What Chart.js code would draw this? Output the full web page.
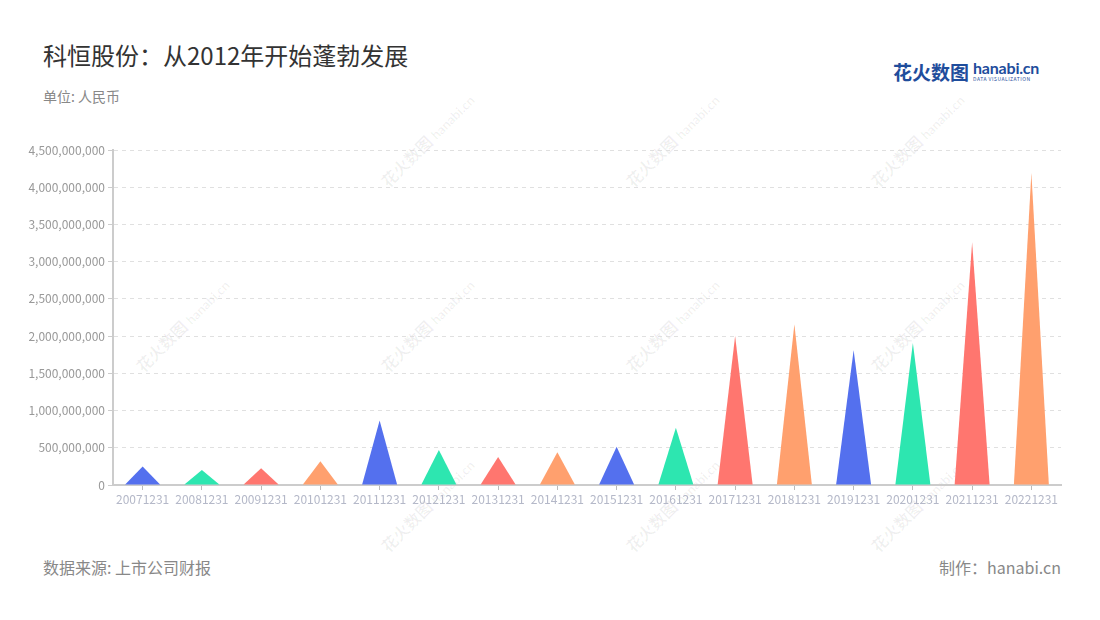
<!DOCTYPE html>
<html lang="zh">
<head>
  <meta charset="UTF-8" />
  <title>科恒股份</title>
  <script src="https://cdn.jsdelivr.net/npm/chart.js"></script>
  <style>
    body {
      margin: 0;
      width: 1100px;
      height: 620px;
      background: #fff;
      font-family: "Noto Sans CJK SC", "Noto Sans", sans-serif;
      position: relative;
      overflow: hidden;
    }
    .title {
      position: absolute;
      left: 43px;
      top: 41px;
      font-size: 24px;
      line-height: 28px;
      color: #333;
    }
    .unit {
      position: absolute;
      left: 43px;
      top: 86px;
      font-size: 14px;
      line-height: 20px;
      color: #888;
    }
    .source, .maker {
      position: absolute;
      top: 556px;
      font-size: 16px;
      line-height: 22px;
      color: #888;
    }
    .source { left: 43px; }
    .maker { right: 39px; }
    .logo {
      position: absolute;
      left: 893px;
      top: 60px;
      white-space: nowrap;
    }
    .logo .cn {
      font-size: 19px;
      font-weight: bold;
      color: #1f4d9c;
      vertical-align: top;
      line-height: 24px;
    }
    .logo .en {
      display: inline-block;
      margin-left: 4px;
      vertical-align: top;
    }
    .logo .en b {
      display: block;
      font-family: "Lato", sans-serif;
      font-size: 16px;
      line-height: 15px;
      color: #1f4d9c;
      letter-spacing: -0.2px;
    }
    .logo .en i {
      display: block;
      font-style: normal;
      font-size: 5px;
      line-height: 7px;
      color: #1f4d9c;
      letter-spacing: 0.5px;
    }
    .wm {
      position: absolute;
      transform: rotate(-45deg);
      transform-origin: 0 0;
      white-space: nowrap;
      color: rgba(0, 0, 0, 0.06);
      font-weight: bold;
      font-size: 16px;
      pointer-events: none;
    }
    .wm span { font-family: "Lato", sans-serif; font-size: 13px; margin-left: 4px; }
    .chart-box {
      position: absolute;
      left: 0;
      top: 130px;
      width: 1100px;
      height: 400px;
    }
  </style>
</head>
<body>
  <div class="title">科恒股份：从2012年开始蓬勃发展</div>
  <div class="unit">单位: 人民币</div>
  <div class="logo"><span class="cn">花火数图</span><span class="en"><b>hanabi.cn</b><i>DATA VISUALIZATION</i></span></div>

  <div id="wms"></div>

  <div class="chart-box">
    <canvas id="chart" width="1100" height="400"></canvas>
  </div>

  <div class="source">数据来源: 上市公司财报</div>
  <div class="maker">制作：hanabi.cn</div>

  <script>
    const categories = ['20071231', '20081231', '20091231', '20101231', '20111231', '20121231',
      '20131231', '20141231', '20151231', '20161231', '20171231', '20181231',
      '20191231', '20201231', '20211231', '20221231'];
    const revenue = [250000000, 200000000, 225000000, 320000000, 865000000, 470000000,
      375000000, 440000000, 515000000, 770000000, 2000000000, 2160000000,
      1810000000, 1910000000, 3260000000, 4190000000];
    const palette = ['#5470ee', '#2de6b0', '#ff766f', '#ffa06e'];
    const yTicks = [0, 500000000, 1000000000, 1500000000, 2000000000, 2500000000,
      3000000000, 3500000000, 4000000000, 4500000000];

    // faint watermarks
    const wmBox = document.getElementById('wms');
    [[130, 370], [375, 185], [375, 370], [375, 550], [620, 185], [620, 370], [620, 550],
     [865, 185], [865, 370], [865, 550]].forEach(p => {
      const d = document.createElement('div');
      d.className = 'wm';
      d.style.left = p[0] + 'px';
      d.style.top = (p[1] - 10) + 'px';
      d.innerHTML = '花火数图<span>hanabi.cn</span>';
      wmBox.appendChild(d);
    });

    // draw each bar as a triangle
    const triangleBars = {
      id: 'triangleBars',
      beforeDatasetDraw(chart, args) {
        const ctx = chart.ctx;
        args.meta.data.forEach(bar => {
          const half = bar.width / 2;
          ctx.save();
          ctx.fillStyle = bar.options.backgroundColor;
          ctx.beginPath();
          ctx.moveTo(bar.x - half, bar.base);
          ctx.lineTo(bar.x, bar.y);
          ctx.lineTo(bar.x + half, bar.base);
          ctx.closePath();
          ctx.fill();
          ctx.restore();
        });
        return false;
      }
    };

    new Chart(document.getElementById('chart'), {
      type: 'bar',
      data: {
        labels: categories,
        datasets: [{
          data: revenue,
          backgroundColor: categories.map((c, i) => palette[i % palette.length]),
          barPercentage: 0.59,
          categoryPercentage: 1
        }]
      },
      options: {
        responsive: false,
        animation: false,
        layout: { padding: { top: 20, right: 39, bottom: 0, left: 0 } },
        plugins: { legend: { display: false }, tooltip: { enabled: false } },
        scales: {
          x: {
            afterFit(scale) { scale.height = 45; },
            grid: { offset: false, drawOnChartArea: false, tickLength: 5, color: '#bbb', tickColor: '#bbb' },
            border: { color: '#ccc', width: 2 },
            ticks: { color: '#b4b8c8', font: { size: 12, family: 'Noto Sans CJK SC' }, padding: 2, maxRotation: 0, autoSkip: false }
          },
          y: {
            min: 0,
            max: 4500000000,
            afterFit(scale) { scale.width = 113; },
            afterBuildTicks(scale) { scale.ticks = yTicks.map(v => ({ value: v })); },
            grid: { color: '#e0e0e0', tickLength: 5, tickColor: '#ccc', lineWidth: 1 },
            border: { color: '#ccc', width: 2, dash: [4, 4] },
            ticks: {
              color: '#999',
              padding: 3,
              font: { size: 12, family: 'Noto Sans CJK SC' },
              callback: v => Number(v).toLocaleString('en-US')
            }
          }
        }
      },
      plugins: [triangleBars]
    });
  </script>
</body>
</html>
